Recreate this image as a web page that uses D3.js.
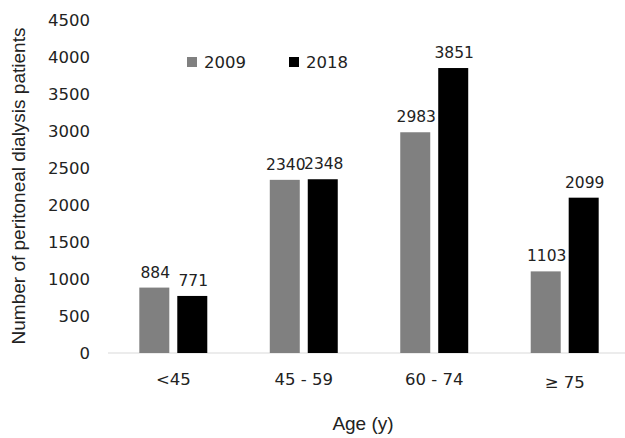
<!DOCTYPE html>
<html>
<head>
<meta charset="utf-8">
<script src="https://cdn.jsdelivr.net/npm/d3@7"></script>
<style>
  body { margin: 0; background: #fff; }
  svg { display: block; }
</style>
</head>
<body>
<div id="chart"></div>
<script>
var ageGroups = ["<45", "45 - 59", "60 - 74", "\u2265 75"];
var years = ["2009", "2018"];
var values2009 = [884, 2340, 2983, 1103];
var values2018 = [771, 2348, 3851, 2099];
var yTicks = [0, 500, 1000, 1500, 2000, 2500, 3000, 3500, 4000, 4500];

var w = 625, h = 438;
var colors = { "2009": "#808080", "2018": "#000000" };

var rows = ageGroups.map(function(g, i) {
  return { group: g, vals: [
    { year: "2009", value: values2009[i] },
    { year: "2018", value: values2018[i] }
  ] };
});

var svg = d3.select("#chart").append("svg")
  .attr("width", w)
  .attr("height", h);

var y = d3.scaleLinear().domain([0, 4500]).range([353, 20]);

var x0 = d3.scaleBand().domain(ageGroups).range([108, 630])
  .paddingInner(0.479).paddingOuter(0.24);

var x1 = d3.scaleBand().domain(years).range([0, x0.bandwidth()])
  .paddingInner(0.21);

// y axis labels (no line)
var yAxis = d3.axisLeft(y).tickValues(yTicks).tickFormat(d3.format("d"))
  .tickSize(0).tickPadding(0);
var yg = svg.append("g")
  .attr("transform", "translate(90,0)")
  .call(yAxis);
yg.select(".domain").remove();
yg.selectAll("text")
  .attr("font-family", "DejaVu Sans")
  .attr("font-size", "16.5px")
  .attr("fill", "#222");

// baseline
svg.append("line")
  .attr("x1", 108).attr("x2", 625)
  .attr("y1", y(0)).attr("y2", y(0))
  .attr("stroke", "#d9d9d9")
  .attr("stroke-width", 1);

var groups = svg.append("g").selectAll("g")
  .data(rows)
  .enter().append("g")
  .attr("transform", function(d) { return "translate(" + x0(d.group) + ",0)"; });

groups.selectAll("rect")
  .data(function(d) { return d.vals; })
  .enter().append("rect")
  .attr("x", function(d) { return x1(d.year); })
  .attr("y", function(d) { return y(d.value); })
  .attr("width", x1.bandwidth())
  .attr("height", function(d) { return y(0) - y(d.value); })
  .attr("fill", function(d) { return colors[d.year]; });

groups.selectAll("text.val")
  .data(function(d) { return d.vals; })
  .enter().append("text")
  .attr("class", "val")
  .attr("x", function(d) { return x1(d.year) + x1.bandwidth() / 2 + 1; })
  .attr("y", function(d) { return y(d.value) - 10; })
  .attr("text-anchor", "middle")
  .attr("font-family", "DejaVu Sans")
  .attr("font-size", "15.5px")
  .attr("fill", "#222")
  .text(function(d) { return d.value; });

// category labels
svg.append("g").selectAll("text")
  .data(ageGroups)
  .enter().append("text")
  .attr("x", function(d) { return x0(d) + x0.bandwidth() / 2; })
  .attr("y", function(d, i) { return i == 3 ? 388 : 385; })
  .attr("text-anchor", "middle")
  .attr("font-family", "DejaVu Sans")
  .attr("font-size", "16.5px")
  .attr("fill", "#222")
  .text(function(d) { return d; });

// axis titles
svg.append("text")
  .attr("x", 363).attr("y", 430)
  .attr("text-anchor", "middle")
  .attr("font-family", "Liberation Sans")
  .attr("font-size", "19px")
  .attr("fill", "#222")
  .text("Age (y)");

svg.append("text")
  .attr("transform", "translate(25,186) rotate(-90)")
  .attr("text-anchor", "middle")
  .attr("font-family", "Liberation Sans")
  .attr("font-size", "19px")
  .attr("fill", "#222")
  .text("Number of peritoneal dialysis patients");

// legend
var legend = svg.append("g").selectAll("g")
  .data(years)
  .enter().append("g")
  .attr("transform", function(d, i) { return "translate(" + (187 + i * 102) + ",57)"; });

legend.append("rect")
  .attr("width", 10).attr("height", 10)
  .attr("fill", function(d) { return colors[d]; });

legend.append("text")
  .attr("x", 17).attr("y", 11)
  .attr("font-family", "DejaVu Sans")
  .attr("font-size", "16.5px")
  .attr("fill", "#222")
  .text(function(d) { return d; });
</script>
</body>
</html>
